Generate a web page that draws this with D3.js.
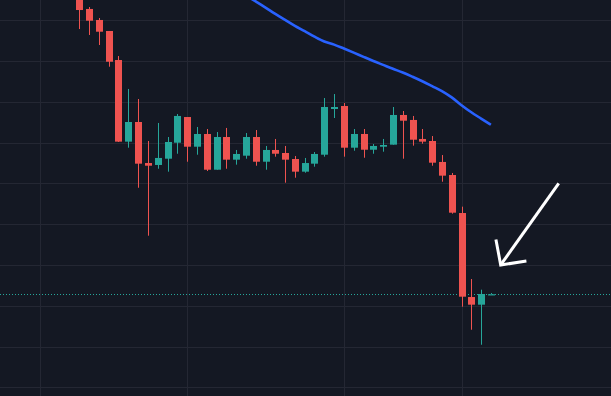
<!DOCTYPE html>
<html>
<head>
<meta charset="utf-8">
<script src="https://cdn.jsdelivr.net/npm/d3@7"></script>
<style>
  html, body { margin: 0; padding: 0; background: #141823; overflow: hidden; }
  svg { display: block; }
</style>
</head>
<body>
<svg id="chart" width="611" height="396"></svg>
<script>
// candles, oldest first (prices)
var opens  = [1484.7,1463.9,1450.4,1436.9,1401.3,1301.2,1325.3,1275.0,1272.6,1280.3,1299.9,1331.4,1295.0,1310.6,1266.8,1306.9,1279.1,1284.0,1306.9,1276.6,1291.0,1287.3,1279.9,1264.4,1274.2,1285.2,1341.2,1344.9,1293.8,1310.6,1291.3,1295.0,1297.5,1333.9,1327.8,1304.5,1302.0,1276.3,1260.3,1213.7,1110.7,1101.3,1114.1];
var highs  = [1489.6,1466.3,1452.8,1436.9,1406.2,1365.8,1353.5,1302.0,1324.1,1306.9,1335.1,1331.4,1319.2,1316.7,1313.0,1318.0,1291.0,1311.8,1315.5,1295.9,1304.5,1295.9,1283.6,1281.2,1288.5,1354.7,1359.6,1348.6,1316.7,1316.7,1298.3,1304.5,1343.7,1338.8,1332.7,1316.7,1308.1,1284.8,1262.8,1221.5,1132.8,1119.7,1115.6];
var lows   = [1439.3,1432.0,1419.7,1393.1,1300.8,1293.8,1244.7,1185.9,1268.0,1264.4,1286.4,1276.6,1285.2,1265.2,1266.8,1268.0,1273.0,1280.3,1271.7,1266.8,1282.8,1250.9,1257.0,1263.1,1270.5,1282.8,1330.2,1282.8,1290.1,1281.5,1286.4,1288.9,1297.5,1280.3,1296.3,1298.7,1271.7,1252.1,1212.9,1098.8,1070.6,1052.2,1114.1];
var closes = [1462.6,1449.5,1436.0,1399.2,1301.2,1325.3,1274.2,1271.7,1281.2,1300.8,1332.7,1295.0,1310.6,1266.8,1306.9,1279.1,1286.1,1306.9,1276.6,1291.0,1286.4,1279.1,1264.4,1275.0,1286.1,1343.7,1343.7,1293.8,1310.6,1291.3,1295.9,1297.1,1333.9,1326.9,1303.6,1301.2,1275.4,1259.5,1214.1,1111.1,1101.3,1114.4,1114.1];

// moving average, starts at candle 17
var maStart = 17;
var maValues = [1480.5,1473.1,1465.6,1457.8,1450.4,1443.1,1436.6,1429.9,1424.0,1420.2,1415.4,1410.4,1405.2,1400.1,1395.3,1390.5,1386.0,1380.8,1375.3,1369.3,1363.2,1355.5,1345.9,1337.2,1329.5,1321.9];

var gridPrices = [1450,1400,1350,1300,1250,1200,1150,1100,1050,1000];
var timeGridIdx = [-4, 11, 27, 39];

// arrow drawing: tail -> tip, in bar index / price
var arrowTail = [48.92, 1250.1];
var arrowTip = [43.0, 1150.0];

var svg = d3.select("#chart"),
    width = +svg.attr("width"),
    height = +svg.attr("height");

var x = d3.scaleLinear().domain([0, 42]).range([79.3, 490.9]);
var y = d3.scaleLinear().domain([1450, 1000]).range([20.3, 387.3]);

var up = "#26a69a", down = "#ef5350";
var bodyW = 7;

svg.append("rect").attr("width", width).attr("height", height).attr("fill", "#141823");

// grid
svg.append("g").selectAll("line")
  .data(gridPrices)
  .enter().append("line")
    .attr("x1", 0).attr("x2", width)
    .attr("y1", function(d) { return Math.round(y(d)) + 0.5; })
    .attr("y2", function(d) { return Math.round(y(d)) + 0.5; })
    .attr("stroke", "#242733").attr("stroke-width", 1);

svg.append("g").selectAll("line")
  .data(timeGridIdx)
  .enter().append("line")
    .attr("y1", 0).attr("y2", height)
    .attr("x1", function(d) { return Math.round(x(d)) + 0.5; })
    .attr("x2", function(d) { return Math.round(x(d)) + 0.5; })
    .attr("stroke", "#242733").attr("stroke-width", 1);

var candles = opens.map(function(o, i) {
  return { i: i, o: o, h: highs[i], l: lows[i], c: closes[i] };
});

// last price line
var last = candles[candles.length - 1];
svg.append("line")
  .attr("x1", 0).attr("x2", width)
  .attr("y1", Math.round(y(last.c)) + 0.5).attr("y2", Math.round(y(last.c)) + 0.5)
  .attr("stroke", last.c >= last.o ? up : down)
  .attr("stroke-width", 1)
  .attr("stroke-dasharray", "1,2");

var g = svg.append("g");

// wicks
g.selectAll(".wick")
  .data(candles)
  .enter().append("rect")
    .attr("class", "wick")
    .attr("x", function(d) { return Math.round(x(d.i)); })
    .attr("width", 1)
    .attr("y", function(d) { return y(d.h); })
    .attr("height", function(d) { return Math.max(1, y(d.l) - y(d.h)); })
    .attr("fill", function(d) { return d.c >= d.o ? up : down; });

// bodies
g.selectAll(".body")
  .data(candles)
  .enter().append("rect")
    .attr("class", "body")
    .attr("x", function(d) { return Math.round(x(d.i)) - 3; })
    .attr("width", bodyW)
    .attr("y", function(d) { return y(Math.max(d.o, d.c)); })
    .attr("height", function(d) { return Math.max(1.2, Math.abs(y(d.o) - y(d.c))); })
    .attr("fill", function(d) { return d.c >= d.o ? up : down; });

// moving average
var line = d3.line()
  .x(function(d, i) { return x(maStart + i); })
  .y(function(d) { return y(d); })
  .curve(d3.curveMonotoneX);

svg.append("path")
  .datum(maValues)
  .attr("d", line)
  .attr("fill", "none")
  .attr("stroke", "#2962ff")
  .attr("stroke-width", 2.6)
  .attr("stroke-linejoin", "round");

// arrow
var tx = x(arrowTail[0]), ty = y(arrowTail[1]);
var hx = x(arrowTip[0]), hy = y(arrowTip[1]);
var ang = Math.atan2(ty - hy, tx - hx);
var headLen = 26, spread = 46 * Math.PI / 180;

var arrow = svg.append("g")
  .attr("stroke", "#ffffff")
  .attr("stroke-width", 3)
  .attr("fill", "none");

arrow.append("line")
  .attr("x1", tx).attr("y1", ty).attr("x2", hx).attr("y2", hy);

arrow.append("path")
  .attr("stroke-linejoin", "miter")
  .attr("d", "M" + (hx + headLen * Math.cos(ang - spread)) + "," + (hy + headLen * Math.sin(ang - spread)) +
             "L" + hx + "," + hy +
             "L" + (hx + headLen * Math.cos(ang + spread)) + "," + (hy + headLen * Math.sin(ang + spread)));
</script>
</body>
</html>
